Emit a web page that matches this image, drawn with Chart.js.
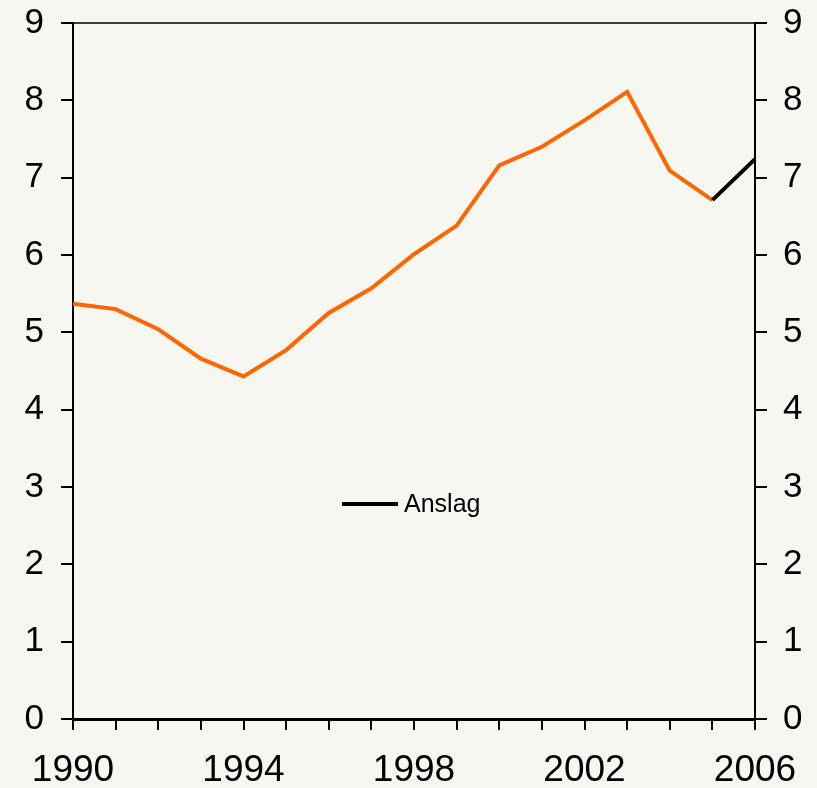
<!DOCTYPE html>
<html>
<head>
<meta charset="utf-8">
<script src="https://cdn.jsdelivr.net/npm/chart.js@4"></script>
<style>
  html, body { margin: 0; padding: 0; background: #F7F7F2; }
  #wrap { width: 817px; height: 788px; }
</style>
</head>
<body>
<div id="wrap"><canvas id="chart" width="817" height="788"></canvas></div>
<script>
// Years on the x axis
const years = ['1990','1991','1992','1993','1994','1995','1996','1997','1998',
  '1999','2000','2001','2002','2003','2004','2005','2006'];
// Historical values (orange)
const actual = [5.37, 5.30, 5.04, 4.66, 4.43, 4.77, 5.25, 5.57, 6.01,
  6.38, 7.16, 7.40, 7.74, 8.11, 7.09, 6.71, null];
// Forecast values (black), "Anslag"
const forecast = [null, null, null, null, null, null, null, null, null,
  null, null, null, null, null, null, 6.71, 7.24];
// Which year labels are shown
const shownYears = ['1990', '1994', '1998', '2002', '2006'];

const FONT = "'Liberation Sans', Arial, sans-serif";

// paint the page colour behind everything
const bgPlugin = {
  id: 'bg',
  beforeDraw(chart) {
    const c = chart.ctx;
    c.save();
    c.fillStyle = '#F7F7F2';
    c.fillRect(0, 0, chart.width, chart.height);
    c.restore();
  }
};

// thin line along the top of the plot
const topLine = {
  id: 'topLine',
  afterDatasetsDraw(chart) {
    const a = chart.chartArea, c = chart.ctx;
    c.save();
    c.strokeStyle = '#000';
    c.lineWidth = 1.5;
    c.beginPath();
    c.moveTo(a.left, a.top);
    c.lineTo(a.right, a.top);
    c.stroke();
    c.restore();
  }
};

// small legend inside the plot, only for the forecast series
const insideLegend = {
  id: 'insideLegend',
  afterDraw(chart, args, opts) {
    const ds = chart.data.datasets[opts.index];
    const c = chart.ctx;
    c.save();
    c.strokeStyle = ds.borderColor;
    c.lineWidth = ds.borderWidth;
    c.beginPath();
    c.moveTo(opts.x, opts.y);
    c.lineTo(opts.x + 56, opts.y);
    c.stroke();
    c.fillStyle = '#000';
    c.font = '25px ' + FONT;
    c.textBaseline = 'middle';
    c.fillText(ds.label, opts.x + 62, opts.y + 1);
    c.restore();
  }
};

function noPad(s) {
  s.paddingTop = 0;
  s.paddingBottom = 0;
  s.paddingLeft = 0;
  s.paddingRight = 0;
}

const ctx = document.getElementById('chart').getContext('2d');

new Chart(ctx, {
  type: 'line',
  data: {
    labels: years,
    datasets: [
      {
        label: 'Anslag',
        data: forecast,
        borderColor: '#000000',
        borderWidth: 4,
        pointRadius: 0,
        spanGaps: false
      },
      {
        label: 'Faktisk',
        data: actual,
        borderColor: '#FF6600',
        borderWidth: 4,
        pointRadius: 0,
        spanGaps: false
      }
    ]
  },
  options: {
    responsive: false,
    animation: false,
    layout: { padding: { top: 23, bottom: 0, left: 0, right: 0 } },
    plugins: {
      legend: { display: false },
      tooltip: { enabled: false },
      insideLegend: { index: 0, x: 342, y: 504 }
    },
    scales: {
      x: {
        offset: false,
        afterFit(s) { s.height = 69; noPad(s); },
        grid: { drawOnChartArea: false, drawTicks: true, tickLength: 11, color: '#000', lineWidth: 2 },
        border: { display: true, color: '#000', width: 3 },
        ticks: {
          autoSkip: false,
          maxRotation: 0,
          padding: 19,
          color: '#000',
          font: { family: FONT, size: 37 },
          callback(v, i) {
            const y = years[i];
            return shownYears.includes(y) ? y : '';
          }
        }
      },
      y: {
        position: 'left',
        min: 0,
        max: 9,
        afterFit(s) { s.width = 73; noPad(s); },
        grid: { drawOnChartArea: false, drawTicks: true, tickLength: 12, color: '#000', lineWidth: 2 },
        border: { display: true, color: '#000', width: 2 },
        ticks: {
          stepSize: 1,
          padding: 17,
          color: '#000',
          font: { family: FONT, size: 35 }
        }
      },
      y2: {
        position: 'right',
        min: 0,
        max: 9,
        afterFit(s) { s.width = 62; noPad(s); },
        grid: { drawOnChartArea: false, drawTicks: true, tickLength: 12, color: '#000', lineWidth: 2 },
        border: { display: true, color: '#000', width: 2 },
        ticks: {
          stepSize: 1,
          padding: 16,
          color: '#000',
          font: { family: FONT, size: 35 }
        }
      }
    }
  },
  plugins: [bgPlugin, topLine, insideLegend]
});
</script>
</body>
</html>
